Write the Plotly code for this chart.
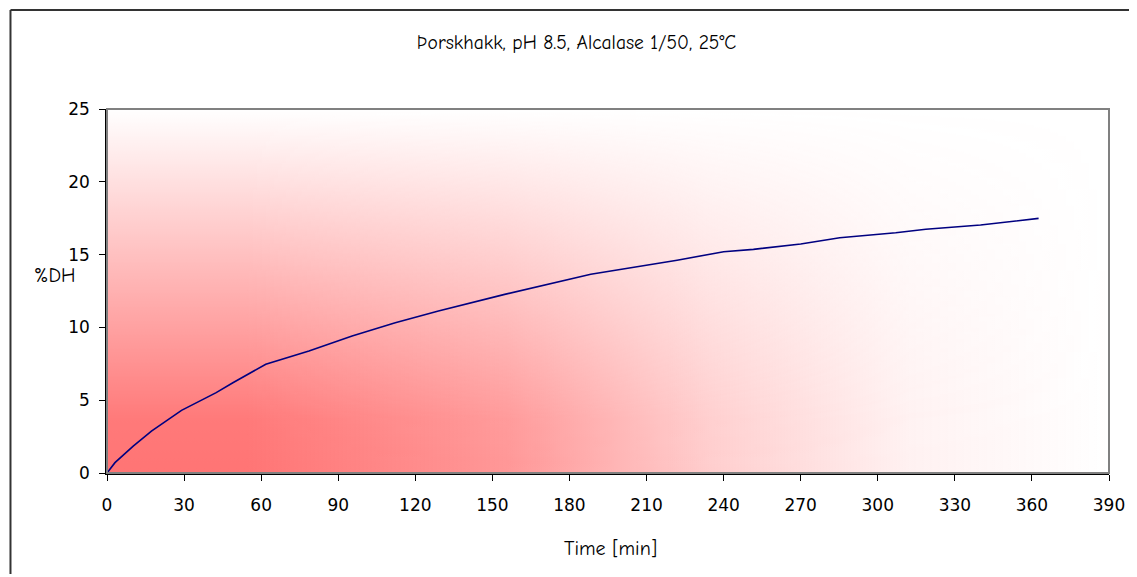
import base64
import plotly.graph_objects as go

# Data
time_min = [0, 3.1, 10.2, 17.3, 29, 42.5, 49, 61.8, 78.6, 95.4, 112.2, 121.2, 129,
            154.8, 176.7, 188.3, 221.9, 240, 251.6, 270, 285.2, 307, 318.7, 340, 362.6]
dh_pct = [0, 0.71, 1.85, 2.88, 4.3, 5.52, 6.2, 7.47, 8.38, 9.41, 10.32, 10.78, 11.13,
          12.27, 13.19, 13.65, 14.61, 15.2, 15.36, 15.73, 16.16, 16.5, 16.74, 17.03, 17.49]

x_ticks = list(range(0, 391, 30))
y_ticks = list(range(0, 26, 5))
title_text = "Þorskhakk, pH 8.5, Alcalase 1/50, 25°C"
x_title = "Time [min]"
y_title = "%DH"

comic = "Comic Sans MS, Comic Neue, Lato, sans-serif"
tickfont = dict(family="DejaVu Sans, Verdana, sans-serif", size=17, color="#000")

# Background gradient (style only) as an SVG image: horizontal fade masked by vertical fade
svg = """<svg xmlns='http://www.w3.org/2000/svg' width='1000' height='400' viewBox='0 0 1000 400' preserveAspectRatio='none'>
<defs>
<linearGradient id='h' x1='0' y1='0' x2='1' y2='0'>
<stop offset='0' stop-color='#ff7474' stop-opacity='1'/>
<stop offset='0.14' stop-color='#ff7474' stop-opacity='1'/>
<stop offset='0.4' stop-color='#ff7474' stop-opacity='0.75'/>
<stop offset='0.6' stop-color='#ff7474' stop-opacity='0.36'/>
<stop offset='0.8' stop-color='#ff7474' stop-opacity='0.1'/>
<stop offset='1' stop-color='#ff7474' stop-opacity='0.0'/>
</linearGradient>
<linearGradient id='v' x1='0' y1='1' x2='0' y2='0'>
<stop offset='0' stop-color='#ffffff'/>
<stop offset='0.15' stop-color='#f4f4f4'/>
<stop offset='1' stop-color='#000000'/>
</linearGradient>
<mask id='m'><rect x='0' y='0' width='1000' height='400' fill='url(#v)'/></mask>
</defs>
<rect x='0' y='0' width='1000' height='400' fill='#ffffff'/>
<rect x='0' y='0' width='1000' height='400' fill='url(#h)' mask='url(#m)'/></svg>"""
src = "data:image/svg+xml;base64," + base64.b64encode(svg.encode()).decode()

fig = go.Figure()
fig.add_trace(go.Scatter(x=time_min, y=dh_pct, mode="lines",
                         line=dict(color="#000080", width=1.6),
                         hoverinfo="x+y", showlegend=False))

W, H = 1129, 566
L, T = 99, 101
PW, PH = 1007, 364
fig.update_layout(
    width=W, height=H,
    margin=dict(l=L, r=W - L - PW, t=T, b=H - T - PH),
    paper_bgcolor="white", plot_bgcolor="white",
    images=[dict(source=src, xref="x", yref="y", x=0, y=25, sizex=390, sizey=25,
                 sizing="stretch", layer="below", xanchor="left", yanchor="top")],
    xaxis=dict(range=[0, 390], tickvals=x_ticks, ticks="outside", ticklen=6,
               tickcolor="#000", showline=True, linecolor="#000", linewidth=1.5,
               showgrid=False, zeroline=False, tickfont=tickfont, ticklabelstandoff=10),
    yaxis=dict(range=[0, 25], tickvals=y_ticks, ticks="outside", ticklen=6,
               tickcolor="#000", showline=True, linecolor="#000", linewidth=1.5,
               showgrid=False, zeroline=False, tickfont=tickfont, ticklabelstandoff=6),
    shapes=[
        dict(type="rect", xref="paper", yref="paper", x0=0, y0=0, x1=1, y1=1,
             line=dict(color="#808080", width=2), layer="above"),
        dict(type="line", xref="paper", yref="paper", x0=-97 / PW, x1=-97 / PW,
             y0=1 + 99 / PH, y1=-0.4, line=dict(color="#333", width=2)),
        dict(type="line", xref="paper", yref="paper", x0=-97 / PW, x1=1.1,
             y0=1 + 99 / PH, y1=1 + 99 / PH, line=dict(color="#333", width=2)),
    ],
    annotations=[
        dict(text=title_text, xref="paper", yref="paper", x=(579 - 107) / PW,
             y=1 + (108 - 42) / PH, showarrow=False, xanchor="center", yanchor="middle",
             font=dict(family=comic, size=19.5, color="#000")),
        dict(text=x_title, xref="paper", yref="paper", x=(613 - 107) / PW,
             y=-(547 - 472) / PH, showarrow=False, xanchor="center", yanchor="middle",
             font=dict(family=comic, size=20, color="#000")),
        dict(text=y_title, xref="paper", yref="paper", x=(54 - 107) / PW,
             y=(472 - 274) / PH, showarrow=False, xanchor="center", yanchor="middle",
             font=dict(family=comic, size=20, color="#000")),
    ],
)

fig.write_html("out.html")
